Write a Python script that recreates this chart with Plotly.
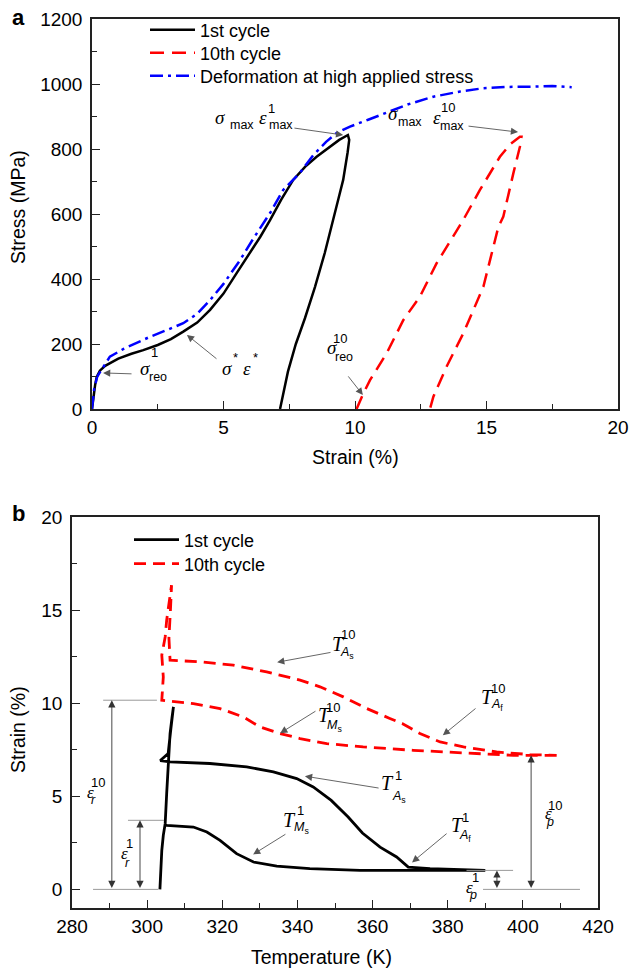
import plotly.graph_objects as go

W, H = 629, 969
SANS = "Liberation Sans, Arial, sans-serif"
SERIF = "Liberation Serif, Times New Roman, serif"

# ---------------- Panel (a) data: stress-strain ----------------
c1_load_strain = [0, 0.05, 0.12, 0.18, 0.3, 0.5, 0.68, 1.0, 1.5, 1.95, 2.5, 3.0, 3.47, 4.0, 4.49, 5.0, 5.5, 6.0, 6.4, 6.77, 7.2, 7.65, 8.1, 8.54, 9.0, 9.4, 9.73]
c1_load_stress = [0, 40, 75, 99, 118, 133, 141, 155, 170, 181, 197, 215, 238, 266, 305, 355, 418, 480, 530, 581, 645, 705, 745, 776, 805, 828, 843]
c1_unload_strain = [9.78, 9.72, 9.55, 9.38, 9.17, 8.85, 8.48, 8.1, 7.75, 7.45, 7.15]
c1_unload_stress = [828, 790, 705, 650, 581, 480, 376, 280, 200, 115, 0]

c10_load_strain = [10.06, 10.3, 10.57, 11.2, 11.84, 12.47, 13.1, 13.8, 14.11, 14.75, 15.51, 15.9, 16.27, 16.33]
c10_load_stress = [0, 45, 89, 171, 274, 346, 448, 541, 581, 674, 776, 815, 838, 838]
c10_unload_strain = [16.27, 16.02, 15.64, 15.45, 14.88, 14.12, 13.48, 12.98, 12.85]
c10_unload_stress = [807, 725, 592, 560, 376, 233, 130, 38, 0]

high_strain = [0, 0.08, 0.2, 0.43, 0.68, 1.2, 2.2, 3.0, 3.47, 4.0, 4.49, 5.0, 5.63, 6.1, 6.51, 6.77, 7.27, 7.9, 8.41, 8.9, 9.3, 9.81, 10.5, 11.08, 12.0, 12.98, 14.0, 14.88, 15.8, 16.78, 17.5, 18.24]
high_stress = [0, 60, 100, 130, 161, 185, 222, 248, 264, 293, 335, 385, 458, 520, 571, 603, 674, 726, 781, 822, 849, 869, 890, 909, 937, 961, 977, 987, 991, 992, 994, 990]

# ---------------- Panel (b) data: strain-temperature ----------------
c1_vert_T = [303.4, 303.6, 303.9, 304.3, 304.8, 305.2, 305.6, 306.1, 306.6, 307.0, 306.3, 305.6, 303.5]
c1_vert_s = [0.0, 1.0, 2.1, 2.9, 3.53, 5.15, 6.94, 8.37, 9.2, 9.8, 8.6, 7.3, 6.92]
c1_heat_T = [306.1, 316.7, 326.5, 333.6, 339.8, 344.2, 349.0, 353.5, 357.3, 362.0, 366.4, 369.5, 375.3, 390.0]
c1_heat_s = [6.85, 6.76, 6.58, 6.31, 5.95, 5.5, 4.78, 3.89, 3.03, 2.27, 1.74, 1.2, 1.11, 1.02]
c1_cool_T = [390.0, 356.7, 343.3, 334.5, 328.3, 323.8, 319.4, 315.9, 312.3, 305.2, 304.5]
c1_cool_s = [1.02, 1.02, 1.11, 1.25, 1.47, 1.92, 2.63, 3.08, 3.35, 3.44, 3.5]

c10_cool_T = [409.0, 397.5, 384.2, 370.8, 357.5, 347.8, 340.7, 335.4, 330.0, 325.6, 319.4, 312.3, 303.9]
c10_cool_s = [7.2, 7.2, 7.33, 7.47, 7.65, 7.83, 8.1, 8.37, 8.73, 9.26, 9.71, 9.98, 10.16]
c10_vert_T = [304.3, 303.9, 304.8, 305.2, 306.0, 306.5, 306.2, 305.8, 306.1]
c10_vert_s = [11.41, 12.58, 13.56, 14.46, 15.5, 16.34, 15.0, 13.5, 12.31]
c10_heat_T = [314.1, 322.9, 331.8, 340.7, 346.0, 352.2, 358.4, 364.6, 368.0, 372.6, 378.0, 384.2, 393.0, 401.9, 409.0]
c10_heat_s = [12.22, 12.04, 11.68, 11.24, 10.88, 10.34, 9.72, 9.18, 8.9, 8.37, 7.92, 7.65, 7.38, 7.24, 7.2]

# axis ticks
a_xticks = [0, 5, 10, 15, 20]
a_yticks = [0, 200, 400, 600, 800, 1000, 1200]
b_xticks = [280, 300, 320, 340, 360, 380, 400, 420]
b_yticks = [0, 5, 10, 15, 20]

fig = go.Figure()

# panel a traces
fig.add_trace(go.Scatter(x=c1_load_strain + c1_unload_strain, y=c1_load_stress + c1_unload_stress,
                         mode="lines", name="1st cycle", line=dict(color="black", width=2.5),
                         xaxis="x", yaxis="y", legend="legend"))
fig.add_trace(go.Scatter(x=c10_load_strain + c10_unload_strain, y=c10_load_stress + c10_unload_stress,
                         mode="lines", name="10th cycle", line=dict(color="#ff0000", width=2.5, dash="14px,8px"),
                         xaxis="x", yaxis="y", legend="legend3"))
fig.add_trace(go.Scatter(x=high_strain, y=high_stress,
                         mode="lines", name="Deformation at high applied stress",
                         line=dict(color="#0000ff", width=2.5, dash="13px,5px,3px,5px"),
                         xaxis="x", yaxis="y", legend="legend4"))

# panel b traces
fig.add_trace(go.Scatter(x=c1_vert_T + c1_heat_T + c1_cool_T, y=c1_vert_s + c1_heat_s + c1_cool_s,
                         mode="lines", name="1st cycle", line=dict(color="black", width=2.8),
                         xaxis="x2", yaxis="y2", legend="legend2"))
fig.add_trace(go.Scatter(x=c10_cool_T + c10_vert_T + c10_heat_T, y=c10_cool_s + c10_vert_s + c10_heat_s,
                         mode="lines", name="10th cycle", line=dict(color="#ff0000", width=2.8, dash="12px,7px"),
                         xaxis="x2", yaxis="y2", legend="legend5"))

axis_common = dict(showline=True, linecolor="#222", linewidth=1.5, mirror=True,
                   ticks="inside", ticklen=8, tickwidth=1.2, tickcolor="#222",
                   showgrid=False, zeroline=False, automargin=False,
                   tickfont=dict(family=SANS, size=19, color="black"))


def leg(px, py):
    return dict(x=px / W, y=1 - py / H, xanchor="left", yanchor="middle", bgcolor="rgba(0,0,0,0)",
                font=dict(family=SANS, size=18, color="black"), itemwidth=45, borderwidth=0)


fig.update_layout(
    width=W, height=H, margin=dict(l=0, r=0, t=0, b=0, pad=0, autoexpand=False),
    plot_bgcolor="white", paper_bgcolor="white",
    xaxis=dict(domain=[92 / W, 618 / W], range=[0, 20], tickvals=a_xticks, anchor="y", ticklabelstandoff=0,
               minor=dict(dtick=2.5, ticks="inside", ticklen=5, tickcolor="#222"), **axis_common),
    yaxis=dict(domain=[1 - 409 / H, 1 - 19 / H], range=[0, 1200], tickvals=a_yticks, anchor="x", ticklabelstandoff=4,
               minor=dict(dtick=100, ticks="inside", ticklen=5, tickcolor="#222"), **axis_common),
    xaxis2=dict(domain=[72 / W, 598 / W], range=[280, 420], tickvals=b_xticks, anchor="y2", ticklabelstandoff=0,
                minor=dict(dtick=10, ticks="inside", ticklen=5, tickcolor="#222"), **axis_common),
    yaxis2=dict(domain=[1 - 908 / H, 1 - 517 / H], range=[-1, 20], tickvals=b_yticks, anchor="x2", ticklabelstandoff=4,
                minor=dict(tick0=0, dtick=2.5, ticks="inside", ticklen=5, tickcolor="#222"), **axis_common),
    legend=leg(145, 30),
    legend3=leg(145, 53),
    legend4=leg(145, 76),
    legend2=leg(129, 540),
    legend5=leg(129, 564),
    showlegend=True,
)

ann = []


def ptext(px, py, s, size, family=SANS, bold=False, angle=0):
    ann.append(dict(x=px / W, y=1 - py / H, xref="paper", yref="paper", text=(f"<b>{s}</b>" if bold else s),
                    showarrow=False, textangle=angle, xanchor="center", yanchor="middle",
                    font=dict(family=family, size=size, color="black")))


def dtext(x, y, s, size, family, panel):
    xr, yr = ("x", "y") if panel == "a" else ("x2", "y2")
    ann.append(dict(x=x, y=y, xref=xr, yref=yr, text=s, showarrow=False,
                    xanchor="center", yanchor="middle", font=dict(family=family, size=size, color="black")))


def arrow(x0, y0, x1, y1, panel, both=False, color="#555"):
    xr, yr = ("x", "y") if panel == "a" else ("x2", "y2")
    ann.append(dict(x=x1, y=y1, ax=x0, ay=y0, xref=xr, yref=yr, axref=xr, ayref=yr, text="",
                    showarrow=True, arrowhead=2, startarrowhead=2, arrowsize=1.6, startarrowsize=1.6,
                    arrowwidth=0.9, arrowcolor=color, arrowside="end+start" if both else "end"))


# titles and panel letters
ptext(18, 17, "a", 22, bold=True)
ptext(18, 513, "b", 22, bold=True)
ptext(18, 207, "Stress (MPa)", 19.5, angle=-90)
ptext(355, 457, "Strain (%)", 19.5)
ptext(18, 730, "Strain (%)", 19.5, angle=-90)
ptext(321, 957, "Temperature (K)", 19.5)

# ---- panel a labels ----
GS, SUBS, SUPS = 19, 12.5, 13
# sigma_max eps_max^1
dtext(4.87, 898, "<i>σ</i>", GS, SERIF, "a"); dtext(5.70, 874, "max", SUBS, SANS, "a")
dtext(6.50, 898, "<i>ε</i>", GS, SERIF, "a"); dtext(6.84, 926, "1", SUPS, SANS, "a"); dtext(7.19, 874, "max", SUBS, SANS, "a")
arrow(7.64, 865, 9.55, 843, "a")
# sigma_max eps_max^10
dtext(11.44, 908, "<i>σ</i>", GS, SERIF, "a"); dtext(12.09, 883, "max", SUBS, SANS, "a")
dtext(13.12, 898, "<i>ε</i>", GS, SERIF, "a"); dtext(13.54, 929, "10", SUPS, SANS, "a"); dtext(13.69, 871, "max", SUBS, SANS, "a")
arrow(14.26, 871, 16.2, 852, "a")
# sigma_reo^1
dtext(2.02, 126, "<i>σ</i>", GS, SERIF, "a"); dtext(2.36, 175, "1", SUPS, SANS, "a"); dtext(2.51, 98, "reo", SUBS, SANS, "a")
arrow(1.56, 108, 0.42, 111, "a")
# sigma* eps*
dtext(5.13, 126, "<i>σ</i>", GS, SERIF, "a"); dtext(5.44, 160, "*", SUPS, SANS, "a")
dtext(5.89, 126, "<i>ε</i>", GS, SERIF, "a"); dtext(6.2, 160, "*", SUPS, SANS, "a")
arrow(4.79, 151, 3.61, 228, "a")
# sigma_reo^10
dtext(9.13, 188, "<i>σ</i>", GS, SERIF, "a"); dtext(9.43, 218, "10", SUPS, SANS, "a"); dtext(9.58, 160, "reo", SUBS, SANS, "a")
arrow(9.7, 105, 10.3, 43, "a")

# ---- panel b labels ----
TS, TSUB, TSUP = 20, 12.5, 13


def tlabel(xT, yT, xs, ys, sup, sub, sx, sy):
    dtext(xT, yT, "<i>T</i>", TS, SERIF, "b")
    dtext(xs, ys, sup, TSUP, SANS, "b")
    dtext(sx, sy, sub, TSUB, SANS, "b")


tlabel(350.8, 13.17, 353.5, 13.71, "10", "<i>A</i><sub>s</sub>", 353.3, 12.69)
arrow(349.2, 12.74, 334.6, 12.2, "b")
tlabel(390.5, 10.32, 393.4, 10.81, "10", "<i>A</i><sub>f</sub>", 393.2, 9.89)
arrow(387.8, 9.78, 378.7, 8.28, "b")
tlabel(347.3, 9.35, 349.5, 9.78, "10", "<i>M</i><sub>s</sub>", 349.8, 8.76)
arrow(345.2, 9.62, 335.4, 8.39, "b")
tlabel(364.1, 5.70, 366.8, 6.13, "1", "<i>A</i><sub>s</sub>", 366.9, 4.95)
arrow(362.0, 5.43, 342.0, 6.08, "b")
tlabel(338.0, 3.71, 340.7, 4.25, "1", "<i>M</i><sub>s</sub>", 341.0, 3.28)
arrow(337.2, 3.01, 328.2, 1.88, "b")
tlabel(382.5, 3.44, 384.6, 3.87, "1", "<i>A</i><sub>f</sub>", 384.7, 2.85)
arrow(380.1, 3.06, 370.5, 1.45, "b")

ES = 17
# eps_r^10
dtext(284.8, 5.22, "<i>ε</i>", ES, SERIF, "b"); dtext(286.9, 5.75, "10", TSUP, SANS, "b"); dtext(285.7, 4.78, "<i>r</i>", TSUB, SANS, "b")
# eps_r^1
dtext(294.1, 1.94, "<i>ε</i>", ES, SERIF, "b"); dtext(295.4, 2.47, "1", TSUP, SANS, "b"); dtext(294.7, 1.40, "<i>r</i>", TSUB, SANS, "b")
# eps_p^10
dtext(406.7, 4.09, "<i>ε</i>", ES, SERIF, "b"); dtext(408.6, 4.52, "10", TSUP, SANS, "b"); dtext(407.3, 3.6, "<i>p</i>", TSUB, SANS, "b")
# eps_p^1
dtext(385.9, 0.11, "<i>ε</i>", ES, SERIF, "b"); dtext(387.3, 0.65, "1", TSUP, SANS, "b"); dtext(386.6, -0.32, "<i>p</i>", TSUB, SANS, "b")

# double arrows (measurement bars)
arrow(290.6, 0.0, 290.6, 10.16, "b", both=True, color="#333")
arrow(298.1, 0.0, 298.1, 3.71, "b", both=True, color="#333")
arrow(402.2, 0.0, 402.2, 7.2, "b", both=True, color="#333")
arrow(393.1, 0.0, 393.1, 1.02, "b", both=True, color="#333")

fig.update_layout(annotations=ann)

# reference guide lines (thin grey)
guide_lines = [(288.3, 302.6, 10.16), (285.6, 303.0, 0.0), (294.9, 304.5, 3.71), (389.4, 415.2, 0.0), (385.0, 397.4, 1.02)]
for x0, x1, yv in guide_lines:
    fig.add_shape(type="line", x0=x0, x1=x1, y0=yv, y1=yv, xref="x2", yref="y2",
                  line=dict(color="#999", width=1))

fig.write_html("out.html", config={"displayModeBar": False},
               post_script="document.body.style.margin='0px';document.body.style.overflow='hidden';")
